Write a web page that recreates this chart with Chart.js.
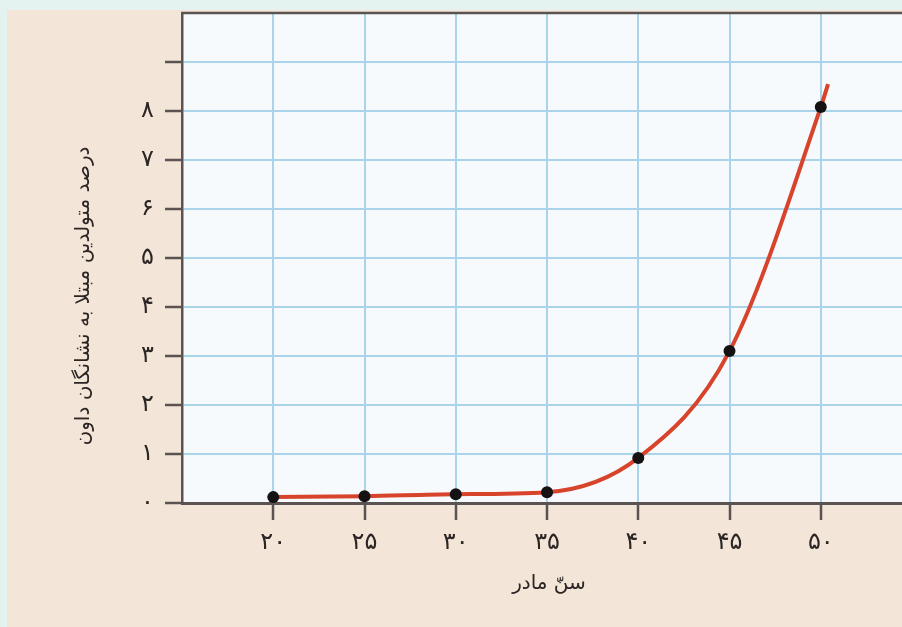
<!DOCTYPE html>
<html>
<head>
<meta charset="utf-8">
<script src="https://cdn.jsdelivr.net/npm/chart.js@4/dist/chart.umd.min.js"></script>
<style>
  html, body { margin: 0; padding: 0; background: #e5f3f0; overflow: hidden; }
  #wrap { position: relative; width: 902px; height: 627px; }
</style>
</head>
<body>
<div id="wrap"><canvas id="chart" width="902" height="627"></canvas></div>
<script>
// mother's age and % of births with Down syndrome
const ages = [20, 25, 30, 35, 40, 45, 50];
const percents = [0.12, 0.14, 0.18, 0.22, 0.92, 3.1, 8.08];
// the drawn curve runs a little past the last point
const curveAges = [20, 25, 30, 35, 40, 45, 50, 50.4];
const curvePercents = [0.12, 0.14, 0.18, 0.22, 0.92, 3.1, 8.08, 8.55];

const xTicks = [20, 25, 30, 35, 40, 45, 50];
const yTicks = [0, 1, 2, 3, 4, 5, 6, 7, 8, 9];
const yLabelMax = 8;

const xTitle = 'سنّ مادر';
const yTitle = 'درصد متولدین مبتلا به نشانگان داون';

const toFa = n => String(n).replace(/\d/g, d => '۰۱۲۳۴۵۶۷۸۹'[d]);

const axisColor = '#5a5351';
const gridColor = '#a9d4ea';
const fontFamily = '"DejaVu Sans", sans-serif';

// backgrounds, top border and axis titles
const paperPlugin = {
    id: 'paper',
    beforeDraw(chart) {
        const { ctx, chartArea: a } = chart;
        ctx.save();
        ctx.fillStyle = '#f3e5d8';
        ctx.fillRect(7, 10, chart.width - 7, chart.height - 10);
        ctx.fillStyle = '#f7fafc';
        ctx.fillRect(a.left, a.top, a.right - a.left, a.bottom - a.top);
        ctx.restore();
    },
    afterDraw(chart) {
        const { ctx, chartArea: a } = chart;
        ctx.save();
        ctx.strokeStyle = axisColor;
        ctx.lineWidth = 2.5;
        ctx.beginPath();
        ctx.moveTo(a.left - 1, a.top);
        ctx.lineTo(a.right, a.top);
        ctx.stroke();

        ctx.fillStyle = '#2b2523';
        ctx.font = '20px ' + fontFamily;
        ctx.textAlign = 'center';
        ctx.textBaseline = 'middle';
        ctx.direction = 'rtl';
        ctx.fillText(xTitle, 549, 584);

        ctx.translate(84, 296);
        ctx.rotate(-Math.PI / 2);
        ctx.fillText(yTitle, 0, 0);
        ctx.restore();
    }
};

new Chart(document.getElementById('chart'), {
    type: 'scatter',
    data: {
        datasets: [{
            label: 'points',
            data: ages.map((a, i) => ({ x: a, y: percents[i] })),
            backgroundColor: '#141212',
            borderColor: '#141212',
            pointRadius: 6,
            borderWidth: 0,
            order: 1
        }, {
            label: 'curve',
            data: curveAges.map((a, i) => ({ x: a, y: curvePercents[i] })),
            showLine: true,
            borderColor: '#d8432b',
            borderWidth: 4,
            pointRadius: 0,
            cubicInterpolationMode: 'monotone',
            order: 2
        }]
    },
    options: {
        responsive: false,
        animation: false,
        events: [],
        layout: { autoPadding: false, padding: { top: 13, left: 0, right: 0, bottom: 0 } },
        plugins: {
            legend: { display: false },
            tooltip: { enabled: false }
        },
        scales: {
            x: {
                type: 'linear',
                min: 15,
                max: 54.45,
                afterBuildTicks: s => { s.ticks = xTicks.map(v => ({ value: v })); },
                afterFit: s => { s.height = 124; s.paddingLeft = 0; s.paddingRight = 0; },
                ticks: {
                    callback: v => toFa(v),
                    color: '#2b2523',
                    font: { family: fontFamily, size: 24 },
                    padding: 8,
                    maxRotation: 0
                },
                grid: {
                    color: gridColor,
                    lineWidth: 2,
                    tickColor: axisColor,
                    tickLength: 17,
                    tickWidth: 2.5
                },
                border: { color: axisColor, width: 3 }
            },
            y: {
                type: 'linear',
                min: 0,
                max: 10,
                afterBuildTicks: s => { s.ticks = yTicks.map(v => ({ value: v })); },
                afterFit: s => { s.width = 182; s.paddingTop = 0; s.paddingBottom = 0; },
                ticks: {
                    callback: v => v <= yLabelMax ? toFa(v) : '',
                    color: '#2b2523',
                    font: { family: fontFamily, size: 24 },
                    padding: 11
                },
                grid: {
                    color: gridColor,
                    lineWidth: 2,
                    tickColor: axisColor,
                    tickLength: 17,
                    tickWidth: 2.5
                },
                border: { color: axisColor, width: 2.5 }
            }
        }
    },
    plugins: [paperPlugin]
});
</script>
</body>
</html>
